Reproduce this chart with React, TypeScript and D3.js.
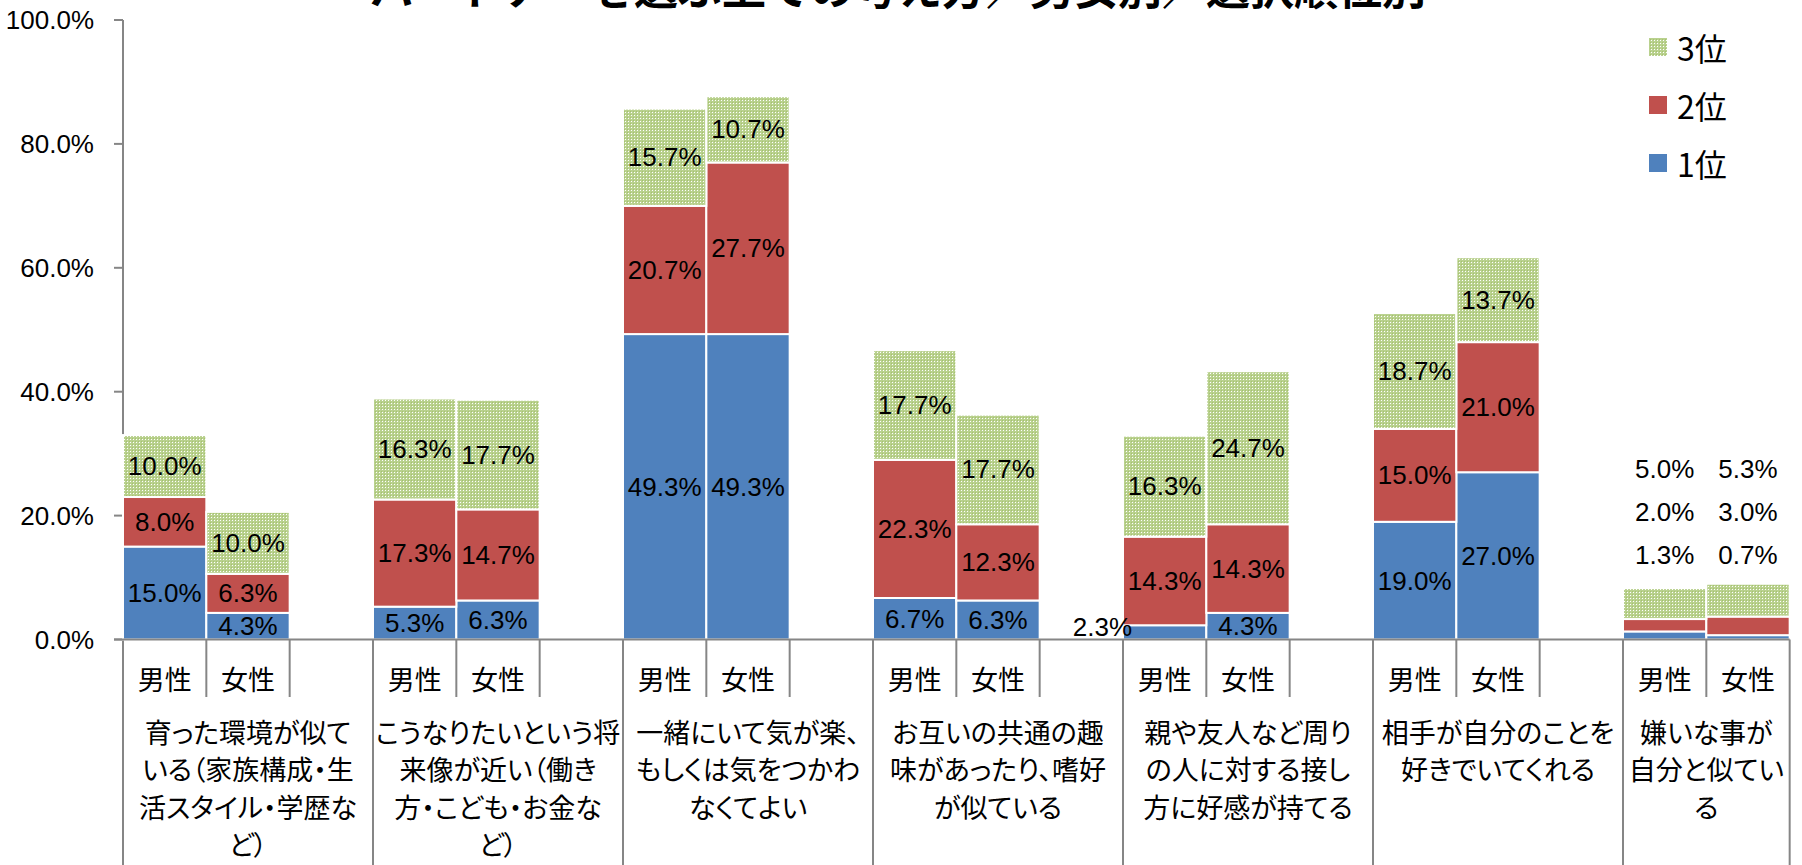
import React from "react";
import * as d3 from "d3";

const title = "パートナーを選ぶ上での考え方／男女別／選択順位別";
const categories = [
  ["育った環境が似て", "いる（家族構成・生", "活スタイル・学歴な", "ど）"],
  ["こうなりたいという将", "来像が近い（働き", "方・こども・お金な", "ど）"],
  ["一緒にいて気が楽、", "もしくは気をつかわ", "なくてよい"],
  ["お互いの共通の趣", "味があったり、嗜好", "が似ている"],
  ["親や友人など周り", "の人に対する接し", "方に好感が持てる"],
  ["相手が自分のことを", "好きでいてくれる"],
  ["嫌いな事が", "自分と似てい", "る"],
];
const genders = ["男性", "女性"];
const seriesNames = ["1位", "2位", "3位"];
const male1 = [15.0, 5.3, 49.3, 6.7, 2.3, 19.0, 1.3];
const male2 = [8.0, 17.3, 20.7, 22.3, 14.3, 15.0, 2.0];
const male3 = [10.0, 16.3, 15.7, 17.7, 16.3, 18.7, 5.0];
const female1 = [4.3, 6.3, 49.3, 6.3, 4.3, 27.0, 0.7];
const female2 = [6.3, 14.7, 27.7, 12.3, 14.3, 21.0, 3.0];
const female3 = [10.0, 17.7, 10.7, 17.7, 24.7, 13.7, 5.3];
const yTicks = [0, 20, 40, 60, 80, 100];

const W = 1802;
const H = 865;
const left = 123;
const slotW = 250 / 3;
const colors = ["#4F81BD", "#C0504D", "url(#green3)"];
const axisColor = "#868686";
const numFont = "'Liberation Sans', Arial, sans-serif";
const jpFont = "'Noto Sans CJK JP', sans-serif";
const palt = { fontFeatureSettings: '"palt"' } as React.CSSProperties;

type Row = { key: string; cat: number; g: number; r1: number; r2: number; r3: number };

const rows: Row[] = [];
categories.forEach((_, i) => {
  rows.push({ key: `${i}-0`, cat: i, g: 0, r1: male1[i], r2: male2[i], r3: male3[i] });
  rows.push({ key: `${i}-1`, cat: i, g: 1, r1: female1[i], r2: female2[i], r3: female3[i] });
});

// each category: 男性, 女性, then a blank slot (except after the last category)
const slotIds: string[] = [];
categories.forEach((_, i) => {
  slotIds.push(`${i}-0`, `${i}-1`);
  if (i < categories.length - 1) slotIds.push(`${i}-2`);
});

export default function App() {
  const x = d3.scaleBand<string>().domain(slotIds).range([left, left + slotIds.length * slotW]).padding(0);
  const y = d3.scaleLinear().domain([0, 100]).range([639.5, 20]);
  const stack = d3.stack<Row>().keys(["r1", "r2", "r3"]);
  const layers = stack(rows);
  const fmt = (v: number) => d3.format(".1f")(v) + "%";
  const bw = x.bandwidth();
  const y0 = y(0);
  const xEnd = x.range()[1];

  const groupStart = (i: number) => x(`${i}-0`)!;
  const groupEnd = (i: number) => (i < categories.length - 1 ? groupStart(i + 1) : xEnd);

  const labels: React.ReactNode[] = [];
  layers.forEach((layer, li) => {
    layer.forEach((d) => {
      const row = d.data;
      const v = d[1] - d[0];
      const bx = x(row.key)!;
      const total = row.r1 + row.r2 + row.r3;
      const segH = y(d[0]) - y(d[1]);
      let tx = bx + bw / 2;
      let ty = (y(d[0]) + y(d[1])) / 2;
      let anchor = "middle";
      if (total < 15) {
        ty = y0 - 84.5 - li * 43;
      } else if (segH < 20) {
        tx = bx + 9;
        ty = y0 - 13;
        anchor = "end";
      }
      labels.push(
        <text
          key={`l-${li}-${row.key}`}
          x={tx}
          y={ty}
          textAnchor={anchor}
          dominantBaseline="central"
          fontSize={26}
          fontFamily={numFont}
          fill="#000"
        >
          {fmt(v)}
        </text>
      );
    });
  });

  return (
    <div>
      <style>{`body{margin:0;overflow:hidden;}`}</style>
      <svg width={W} height={H} style={{ display: "block", background: "#fff" }}>
        <defs>
          <pattern id="green3" width={3} height={3} patternUnits="userSpaceOnUse">
            <rect width={3} height={3} fill="#b9d18e" />
            <rect x={1} y={1} width={1} height={1} fill="#ffffff" />
            <rect x={0} y={0} width={1} height={1} fill="#a6c170" />
          </pattern>
        </defs>

        {/* title */}
        <text x={898} y={5} textAnchor="middle" fontSize={44} fontWeight="bold" fontFamily={jpFont} fill="#000">
          {title}
        </text>

        {/* y axis */}
        <line x1={left} x2={left} y1={y(100)} y2={H} stroke={axisColor} strokeWidth={2} />
        {yTicks.map((t) => (
          <g key={`t${t}`}>
            <line x1={left - 9} x2={left} y1={y(t)} y2={y(t)} stroke={axisColor} strokeWidth={2} />
            <text
              x={94}
              y={y(t)}
              textAnchor="end"
              dominantBaseline="central"
              fontSize={26}
              fontFamily={numFont}
              fill="#000"
            >
              {d3.format(".1f")(t) + "%"}
            </text>
          </g>
        ))}

        {/* bars */}
        {layers.map((layer, li) => (
          <g key={`s${li}`}>
            {layer.map((d) => (
              <rect
                key={d.data.key}
                x={x(d.data.key)!}
                y={y(d[1])}
                width={bw}
                height={y(d[0]) - y(d[1])}
                fill={colors[li]}
                stroke="#fff"
                strokeWidth={2}
              />
            ))}
          </g>
        ))}
        {labels}

        {/* x axis */}
        <line x1={left - 9} x2={xEnd} y1={y0} y2={y0} stroke={axisColor} strokeWidth={2} />
        {slotIds.map((id) => {
          if (id.endsWith("-0")) return null;
          const xs = x(id)!;
          return <line key={`v${id}`} x1={xs} x2={xs} y1={y0} y2={697} stroke={axisColor} strokeWidth={2} />;
        })}
        {categories.map((_, i) => {
          const xs = groupEnd(i);
          return <line key={`gv${i}`} x1={xs} x2={xs} y1={y0} y2={H} stroke={axisColor} strokeWidth={2} />;
        })}
        {rows.map((r) => (
          <text
            key={`g${r.key}`}
            x={x(r.key)! + bw / 2}
            y={678}
            textAnchor="middle"
            dominantBaseline="central"
            fontSize={27}
            fontFamily={jpFont}
            fill="#000"
          >
            {genders[r.g]}
          </text>
        ))}
        {categories.map((lines, i) => {
          const cx = (groupStart(i) + groupEnd(i)) / 2;
          return lines.map((ln, j) => (
            <text
              key={`c${i}-${j}`}
              x={cx}
              y={731 + j * 37.5}
              textAnchor="middle"
              dominantBaseline="central"
              fontSize={27}
              fontFamily={jpFont}
              style={palt}
              fill="#000"
            >
              {ln}
            </text>
          ));
        })}

        {/* legend */}
        {[2, 1, 0].map((si, k) => (
          <g key={`lg${si}`}>
            <rect x={1649} y={38 + k * 58} width={18} height={18} fill={colors[si]} />
            <text
              x={1677}
              y={47 + k * 58}
              dominantBaseline="central"
              fontSize={32}
              fontFamily={jpFont}
              fill="#000"
            >
              {seriesNames[si]}
            </text>
          </g>
        ))}
      </svg>
    </div>
  );
}
